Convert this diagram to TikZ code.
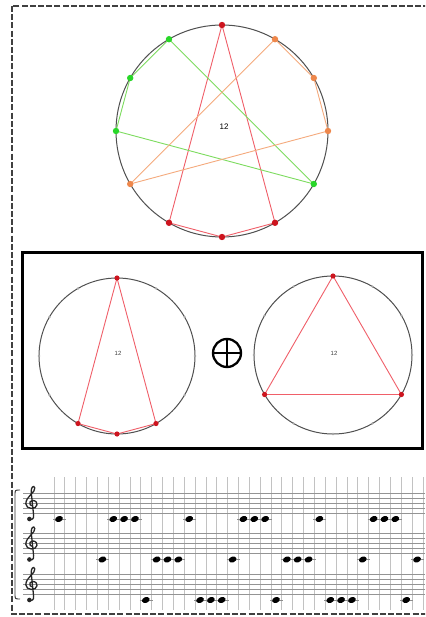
\documentclass[tikz,border=0pt]{standalone}
\usepackage{fontspec}
\setmainfont{Liberation Sans}
\definecolor{ptred}{RGB}{205,20,30}
\definecolor{lnred}{RGB}{240,95,105}
\definecolor{ptgreen}{RGB}{40,215,40}
\definecolor{lngreen}{RGB}{125,220,95}
\definecolor{ptorange}{RGB}{238,135,75}
\definecolor{lnorange}{RGB}{245,170,125}
\definecolor{circgray}{RGB}{80,80,80}
\tikzset{
  outerframe/.style={draw=black!75, line width=1.8pt, dash pattern=on 6pt off 2.2pt},
  boxframe/.style={draw=black, line width=3pt},
  circ/.style={draw=circgray, line width=1pt},
  redln/.style={draw=lnred, line width=0.9pt},
  greenln/.style={draw=lngreen, line width=0.9pt},
  orangeln/.style={draw=lnorange, line width=0.9pt},
  tick/.style={fill=black!35},
  lbl/.style={font=\fontsize{8}{9}\selectfont, inner sep=0pt},
  slbl/.style={font=\fontsize{6}{7}\selectfont, inner sep=0pt, text=black!75},
  staffln/.style={draw=black!42, line width=0.65pt},
  gridln/.style={draw=black!24, line width=0.8pt},
  ledger/.style={draw=black!45, line width=0.6pt},
  trebleclef/.pic={
    \draw[black!85, line width=1.3pt, line cap=round]
      (-2.5,15.5) .. controls (-0.5,17.5) and (2.2,16) .. (1.6,12)
      -- (-0.8,-11)
      .. controls (-1.2,-15.5) and (1.8,-18.5) .. (2.8,-15)
      .. controls (3.8,-11) and (-6.2,-6.5) .. (-6.2,0.8)
      .. controls (-6.2,6.5) and (4.5,7) .. (5,1.8)
      .. controls (5.4,-2.5) and (0,-4) .. (-2,-1)
      .. controls (-3.2,1) and (-1.2,3.2) .. (0.6,3);
    \fill[black!85] (-2.6,16) circle[radius=2.3];
  },
}
\begin{document}
\begin{tikzpicture}[x=1pt,y=-1pt]
\useasboundingbox (0,0) rectangle (425,617);
\clip (0,0) rectangle (425,617);
\fill[white] (0,0) rectangle (425,617);

% outer dashed frame (right side beyond the picture)
\draw[outerframe] (12,6) rectangle (445,614);

% ---------- top circle ----------
\coordinate (C) at (222,131);
\draw[circ] (C) circle[radius=106];
\foreach \k in {0,...,11} \path (C) ++(30*\k-90:106) coordinate (T\k);
\draw[redln] (T0) -- (T5);
\draw[redln] (T0) -- (T7);
\draw[redln] (T7) -- (T6) -- (T5);
\draw[greenln] (T4) -- (T9) -- (T10) -- (T11) -- cycle;
\draw[orangeln] (T8) -- (T1) -- (T2) -- (T3) -- cycle;
\foreach \k in {0,5,6,7} \fill[ptred] (T\k) circle[radius=3.2];
\foreach \k in {4,9,10,11} \fill[ptgreen] (T\k) circle[radius=3.2];
\foreach \k in {8,1,2,3} \fill[ptorange] (T\k) circle[radius=3.2];
\node[lbl] (lab1) at (224,127) {12};

% ---------- framed box ----------
\draw[boxframe] (22,252) rectangle (422,448);

% left small circle
\coordinate (L) at (117,356);
\draw[circ] (L) circle[radius=78];
\foreach \k in {0,...,11} {\path (L) ++(30*\k-90:78) coordinate (L\k); \fill[tick] (L\k) circle[radius=1.3];}
\draw[redln] (L0) -- (L5);
\draw[redln] (L0) -- (L7);
\draw[redln] (L7) -- (L6) -- (L5);
\foreach \k in {0,5,6,7} \fill[ptred] (L\k) circle[radius=2.6];
\node[slbl] (lab2) at (118,353) {12};

% plus-circle
\node[circle, draw=black, line width=2.3pt, minimum size=28pt, inner sep=0pt] (op) at (227,353) {};
\draw[line width=2.3pt] ([xshift=2pt]op.west) -- ([xshift=-2pt]op.east);
\draw[line width=2.3pt] ([yshift=-2pt]op.north) -- ([yshift=2pt]op.south);

% right small circle
\coordinate (R) at (333,355);
\draw[circ] (R) circle[radius=79];
\foreach \k in {0,...,11} {\path (R) ++(30*\k-90:79) coordinate (R\k); \fill[tick] (R\k) circle[radius=1.3];}
\draw[redln] (R0) -- (R4) -- (R8) -- cycle;
\foreach \k in {0,4,8} \fill[ptred] (R\k) circle[radius=2.6];
\node[slbl] (lab3) at (334,353) {12};

% ---------- music ----------
% vertical grid
\foreach \i in {0,...,34} \draw[gridln] (54+10.85*\i,477) -- (54+10.85*\i,610);
% staves
\foreach \s in {0,1,2} {
  \foreach \j in {0,...,4} \draw[staffln] (23,493+40.5*\s+5*\j) -- (425,493+40.5*\s+5*\j);
}
% clefs
\pic at (32,503) {trebleclef};
\pic at (32,543.5) {trebleclef};
\pic at (32,584) {trebleclef};
% brace
\draw[line width=0.9pt, black!80] (20,490) .. controls (15,490) .. (15,495) -- (15,594) .. controls (15,599) .. (20,599);
% notes
\foreach \t in {0,5,6,7,12,17,18,19,24,29,30,31} {
  \draw[ledger] (53+10.85*\t,519) -- (66+10.85*\t,519);
  \fill[black, rotate around={20:(59+10.85*\t,519)}] (59+10.85*\t,519) ellipse[x radius=4, y radius=2.9];
}
\foreach \t in {4,9,10,11,16,21,22,23,28,33} {
  \draw[ledger] (53+10.85*\t,559.5) -- (66+10.85*\t,559.5);
  \fill[black, rotate around={20:(59+10.85*\t,559.5)}] (59+10.85*\t,559.5) ellipse[x radius=4, y radius=2.9];
}
\foreach \t in {8,13,14,15,20,25,26,27,32} {
  \draw[ledger] (53+10.85*\t,600) -- (66+10.85*\t,600);
  \fill[black, rotate around={20:(59+10.85*\t,600)}] (59+10.85*\t,600) ellipse[x radius=4, y radius=2.9];
}
\end{tikzpicture}
\end{document}
